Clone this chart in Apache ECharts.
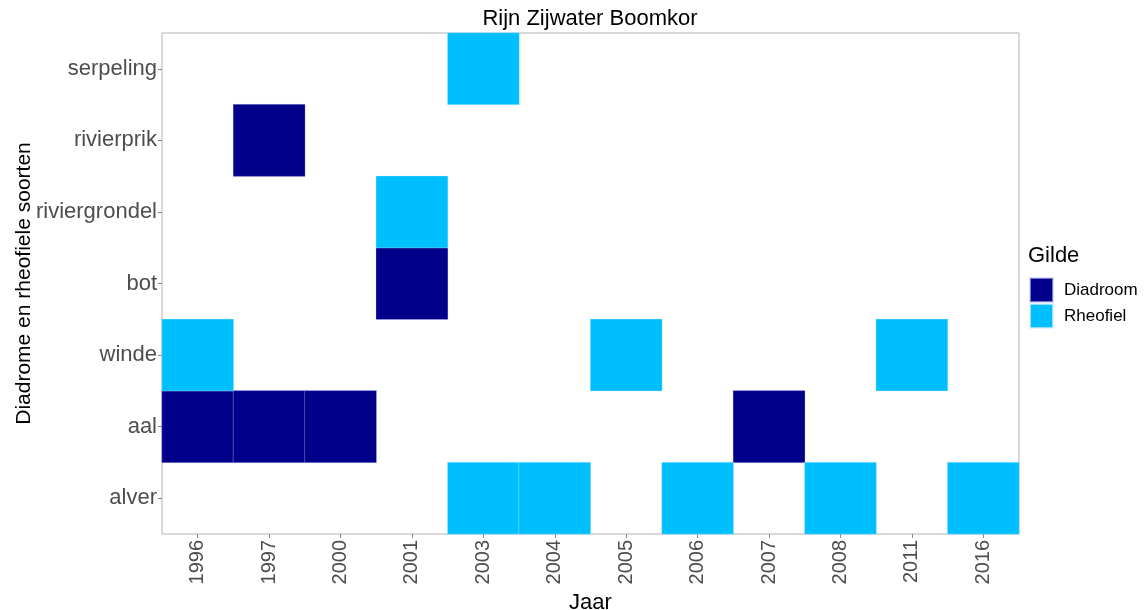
<!DOCTYPE html>
<html>
<head>
<meta charset="utf-8">
<script src="https://cdn.jsdelivr.net/npm/echarts@6/dist/echarts.min.js"></script>
<style>
  html, body { margin: 0; padding: 0; background: #fff; }
  #chart { width: 1144px; height: 610px; }
</style>
</head>
<body>
<div id="chart"></div>
<script>
// categorieen
const jaren = ['1996', '1997', '2000', '2001', '2003', '2004', '2005', '2006', '2007', '2008', '2011', '2016']
const soorten = ['alver', 'aal', 'winde', 'bot', 'riviergrondel', 'rivierprik', 'serpeling']

// [jaar, soort] waarnemingen per gilde
const diadroom = [
  ['1997', 'rivierprik'],
  ['2001', 'bot'],
  ['1996', 'aal'], ['1997', 'aal'], ['2000', 'aal'], ['2007', 'aal'],
]
const rheofiel = [
  ['2003', 'serpeling'],
  ['2001', 'riviergrondel'],
  ['1996', 'winde'], ['2005', 'winde'], ['2011', 'winde'],
  ['2003', 'alver'], ['2004', 'alver'], ['2006', 'alver'], ['2008', 'alver'], ['2016', 'alver'],
]

const labelFont = 'Liberation Sans, Arial, sans-serif'

const toData = (rows) => rows.map(([j, s]) => [j, s, 1])

const chart = echarts.init(document.getElementById('chart'), null, {renderer: 'canvas'})
chart.setOption({
  animation: false,
  title: {
    text: 'Rijn Zijwater Boomkor',
    left: 590,
    textAlign: 'center',
    top: 8,
    padding: 0,
    textStyle: {fontFamily: labelFont, fontSize: 22, fontWeight: 'normal', color: '#000'},
  },
  graphic: [{
    type: 'text',
    left: 1028,
    top: 245,
    style: {text: 'Gilde', font: '22px ' + labelFont, fill: '#000'},
  }],
  legend: {
    orient: 'vertical',
    left: 1029,
    top: 277,
    padding: 0,
    icon: 'rect',
    itemWidth: 23,
    itemHeight: 24,
    itemGap: 0,
    textStyle: {fontFamily: labelFont, fontSize: 17, color: '#000', padding: [0, 0, 0, 6]},
    data: ['Diadroom', 'Rheofiel'],
  },
  grid: {
    left: 162, top: 33, right: 125, bottom: 76,
    outerBoundsMode: 'none',
    containLabel: false,
    show: true, borderColor: '#b3b3b3', borderWidth: 1, backgroundColor: '#fff',
  },
  xAxis: {
    type: 'category',
    data: jaren,
    name: 'Jaar',
    nameLocation: 'middle',
    nameGap: 53,
    nameTextStyle: {fontFamily: labelFont, fontSize: 22, color: '#000'},
    axisLine: {show: false},
    axisTick: {show: true, alignWithLabel: true, length: 4, lineStyle: {color: '#888'}},
    axisLabel: {rotate: 90, fontFamily: labelFont, fontSize: 20, color: '#4d4d4d', margin: 6},
    splitLine: {show: false},
  },
  yAxis: {
    type: 'category',
    data: soorten,
    name: 'Diadrome en rheofiele soorten',
    nameLocation: 'middle',
    nameGap: 127,
    nameMoveOverlap: false,
    nameTextStyle: {fontFamily: labelFont, fontSize: 21, color: '#000'},
    axisLine: {show: false},
    axisTick: {show: true, alignWithLabel: true, length: 4, lineStyle: {color: '#888'}},
    axisLabel: {fontFamily: labelFont, fontSize: 22, color: '#4d4d4d', margin: 5},
    splitLine: {show: false},
  },
  series: [
    {
      name: 'Diadroom',
      type: 'heatmap',
      data: toData(diadroom),
      itemStyle: {color: '#00008B', borderColor: 'rgba(200,200,255,0.6)', borderWidth: 0.5},
      emphasis: {disabled: true},
    },
    {
      name: 'Rheofiel',
      type: 'heatmap',
      data: toData(rheofiel),
      itemStyle: {color: '#00BFFF', borderColor: 'rgba(220,240,255,0.7)', borderWidth: 0.5},
      emphasis: {disabled: true},
    },
  ],
})
</script>
</body>
</html>
